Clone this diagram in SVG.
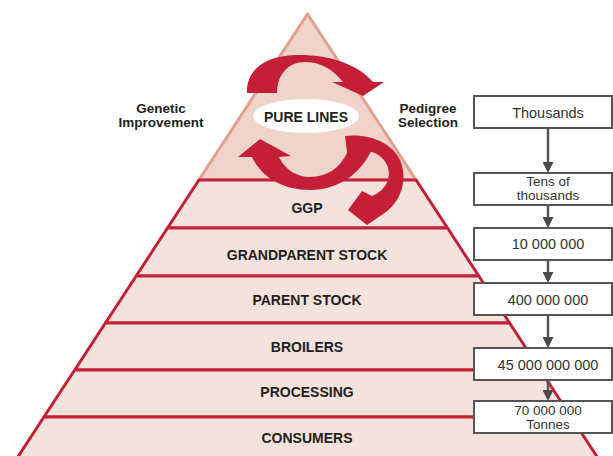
<svg xmlns="http://www.w3.org/2000/svg" width="613" height="456" viewBox="0 0 613 456">
<style>
.band{fill:#f4e2dc;stroke:#c41f37;stroke-width:3;stroke-linejoin:round}
.lvl{font-family:"Liberation Sans",Arial,sans-serif;font-weight:bold;font-size:14px;fill:#231f20;text-anchor:middle}
.side{font-family:"Liberation Sans",Arial,sans-serif;font-weight:bold;font-size:13.5px;fill:#231f20;text-anchor:middle}
.box{fill:#ffffff;stroke:#555555;stroke-width:2}
.bt{font-family:"Liberation Sans",Arial,sans-serif;font-size:14.5px;fill:#333333;text-anchor:middle}
.bt2{font-family:"Liberation Sans",Arial,sans-serif;font-size:13.5px;fill:#333333;text-anchor:middle}
.red{fill:#c41f37}
.conn{stroke:#555555;stroke-width:2.5;fill:none;marker-end:url(#ah)}
</style>
<defs>
<marker id="ah" viewBox="0 0 10 10" refX="7.3" refY="5" markerWidth="11" markerHeight="11" markerUnits="userSpaceOnUse" orient="auto">
<path d="M0,0 L10,5 L0,10 Z" fill="#4a4a4a"/>
</marker>
</defs>
<rect width="613" height="456" fill="#ffffff"/>

<g id="pure-lines">
<polygon points="307.5,14 198.9,180 416.1,180" fill="#f0d3ca" stroke="#e29f8e" stroke-width="3" stroke-linejoin="round"/>
</g>
<g id="ggp">
<polygon class="band" points="198.9,180 416.1,180 447.5,228 167.5,228"/>
<text class="lvl" x="307" y="213">GGP</text>
</g>
<g id="grandparent-stock">
<polygon class="band" points="167.5,228 447.5,228 478.8,276 136.2,276"/>
<text class="lvl" x="307" y="260">GRANDPARENT STOCK</text>
</g>
<g id="parent-stock">
<polygon class="band" points="136.2,276 478.8,276 509.6,323 105.4,323"/>
<text class="lvl" x="307" y="305">PARENT STOCK</text>
</g>
<g id="broilers">
<polygon class="band" points="105.4,323 509.6,323 540.3,370 74.7,370"/>
<text class="lvl" x="307" y="352">BROILERS</text>
</g>
<g id="processing">
<polygon class="band" points="74.7,370 540.3,370 571.1,417 43.9,417"/>
<text class="lvl" x="307" y="397">PROCESSING</text>
</g>
<g id="consumers">
<polygon class="band" points="43.9,417 571.1,417 605.7,470 9.3,470"/>
<text class="lvl" x="307" y="443">CONSUMERS</text>
</g>

<g id="cycle-arrows">
<path class="red" d="M247,93 C246,70 265,56 295,55 C328,54 358,64 373,82 L384,82 L363,96 L332,82 L343,82 C333,69 320,62 305,62 C288,62 277,75 277,93 Z"/>
<path class="red" d="M238,157 L260,139 L291,156 L279,157 C285,170 297,177 310,177 C327,177 340,168 347,153 L347,137 L372,140 L372,149 C362,172 340,190 310,190 C283,190 262,178 252,157 Z"/>
<path class="red" d="M345,136 C368,133 392,142 400,160 C407,176 404,198 386,212 L367,225 L348,210 L362,191 L372,196 C387,190 392,176 387,165 C381,152 366,148 347,151 Z"/>
</g>

<g id="pure-lines-label">
<ellipse cx="306" cy="116" rx="53" ry="17" fill="#ffffff"/>
<text class="lvl" x="306" y="122">PURE LINES</text>
</g>

<g id="genetic-improvement">
<text class="side" x="161" y="113">Genetic</text>
<text class="side" x="161" y="127">Improvement</text>
</g>
<g id="pedigree-selection">
<text class="side" x="428" y="113">Pedigree</text>
<text class="side" x="428" y="127">Selection</text>
</g>

<g id="connectors">
<line class="conn" x1="548" y1="128" x2="548" y2="170"/>
<line class="conn" x1="548" y1="205" x2="548" y2="225"/>
<line class="conn" x1="548" y1="260" x2="548" y2="280"/>
<line class="conn" x1="548" y1="315" x2="548" y2="345"/>
<line class="conn" x1="548" y1="380" x2="548" y2="398"/>
</g>

<g id="box-thousands">
<rect class="box" x="474" y="96" width="138" height="32"/>
<text class="bt" x="548" y="118">Thousands</text>
</g>
<g id="box-tens-of-thousands">
<rect class="box" x="474" y="173" width="138" height="32"/>
<text class="bt2" x="548" y="186">Tens of</text>
<text class="bt2" x="548" y="200">thousands</text>
</g>
<g id="box-10m">
<rect class="box" x="474" y="228" width="138" height="32"/>
<text class="bt" x="548" y="249">10 000 000</text>
</g>
<g id="box-400m">
<rect class="box" x="474" y="283" width="138" height="32"/>
<text class="bt" x="548" y="305">400 000 000</text>
</g>
<g id="box-45b">
<rect class="box" x="474" y="348" width="138" height="32"/>
<text class="bt" x="548" y="370">45 000 000 000</text>
</g>
<g id="box-70m-tonnes">
<rect class="box" x="474" y="401" width="138" height="32"/>
<text class="bt2" x="548" y="415">70 000 000</text>
<text class="bt2" x="548" y="429">Tonnes</text>
</g>
</svg>
